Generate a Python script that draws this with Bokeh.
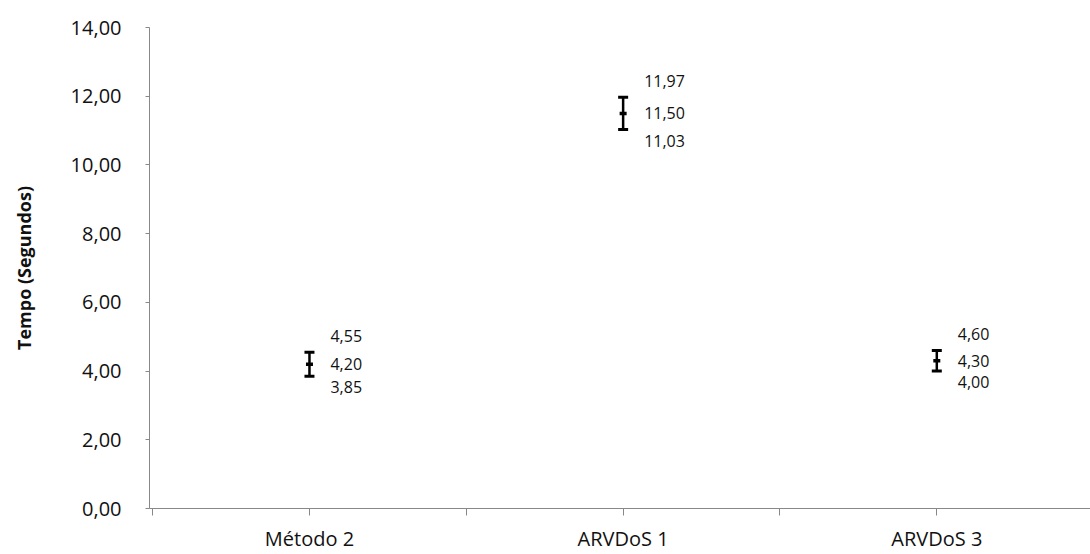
from bokeh.plotting import figure
from bokeh.models import FixedTicker, ColumnDataSource, Range1d
from bokeh.core.properties import value
from bokeh.embed import file_html
from bokeh.resources import INLINE

categories = ["Método 2", "ARVDoS 1", "ARVDoS 3"]
means = [4.20, 11.50, 4.30]
upper = [4.55, 11.97, 4.60]
lower = [3.85, 11.03, 4.00]
y_ticks = [0, 2, 4, 6, 8, 10, 12, 14]

def fmt(v):
    return f"{v:.2f}".replace(".", ",")

xs = [i + 0.5 for i in range(len(categories))]
FONT = "Open Sans"

p = figure(width=1090, height=554, output_backend="svg", toolbar_location=None,
           x_range=Range1d(-0.01, 2.99), y_range=Range1d(0, 14),
           min_border_left=149, min_border_right=0, min_border_top=27, min_border_bottom=44)
p.outline_line_color = None
p.grid.grid_line_color = None
p.background_fill_color = "white"

# y axis
p.yaxis.ticker = FixedTicker(ticks=y_ticks)
p.yaxis.major_label_overrides = {t: fmt(t) for t in y_ticks}
p.yaxis.axis_label = "Tempo (Segundos)"
p.yaxis.axis_label_text_font = FONT
p.yaxis.axis_label_text_font_style = "bold"
p.yaxis.axis_label_text_font_size = "18px"
p.yaxis.axis_label_text_color = "#111111"
p.yaxis.axis_label_standoff = 32
p.yaxis.major_label_text_font = FONT
p.yaxis.major_label_text_font_size = "20px"
p.yaxis.major_label_text_color = "#111111"
p.yaxis.major_tick_out = 4
p.yaxis.major_tick_in = 0
p.yaxis.minor_tick_line_color = None
p.yaxis.axis_line_color = "#888888"
p.yaxis.major_tick_line_color = "#888888"
p.yaxis.major_label_standoff = 24

# x axis
p.xaxis.ticker = FixedTicker(ticks=xs, minor_ticks=[0, 1, 2, 3])
p.xaxis.major_label_overrides = {x: c for x, c in zip(xs, categories)}
p.xaxis.major_label_text_font = FONT
p.xaxis.major_label_text_font_size = "20px"
p.xaxis.major_label_text_color = "#111111"
p.xaxis.major_tick_out = 7
p.xaxis.major_tick_in = 0
p.xaxis.minor_tick_out = 7
p.xaxis.minor_tick_in = 0
p.xaxis.axis_line_color = "#888888"
p.xaxis.major_tick_line_color = "#888888"
p.xaxis.minor_tick_line_color = "#888888"
p.xaxis.major_label_standoff = 9

src = ColumnDataSource(dict(x=xs, mean=means, up=upper, lo=lower,
                            tup=[fmt(v) for v in upper],
                            tmean=[fmt(v) for v in means],
                            tlo=[fmt(v) for v in lower]))

# error bars
p.segment(x0="x", y0="lo", x1="x", y1="up", source=src, line_color="black", line_width=2.5)
p.dash(x="x", y="up", source=src, size=10, line_color="black", line_width=3)
p.dash(x="x", y="lo", source=src, size=10, line_color="black", line_width=3)
p.dash(x="x", y="mean", source=src, size=7, line_color="black", line_width=3.5)

# labels
common = dict(source=src, x_offset=21, text_font=value(FONT), text_font_size="16px",
              text_color="#111111", text_align="left")
p.text(x="x", y="up", text="tup", y_offset=-10, text_baseline="bottom", **common)
p.text(x="x", y="mean", text="tmean", text_baseline="middle", **common)
p.text(x="x", y="lo", text="tlo", y_offset=5, text_baseline="top", **common)

open("out.html", "w").write(file_html(p, INLINE))
